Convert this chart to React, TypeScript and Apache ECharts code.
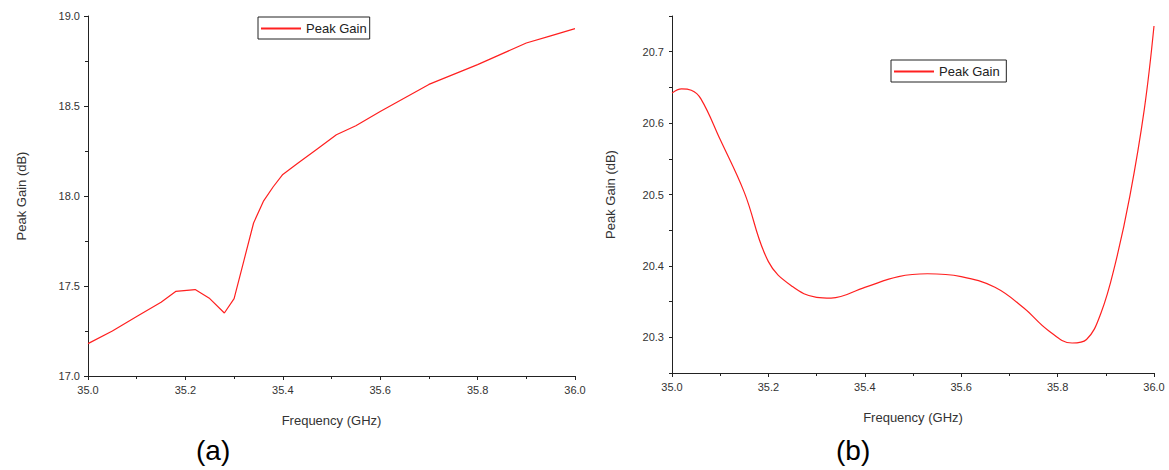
import { useEffect, useRef } from "react";
import * as echarts from "echarts";

// (a) peak gain vs frequency
const freqA = [35.0, 35.05, 35.1, 35.15, 35.18, 35.22, 35.25, 35.28, 35.3, 35.32, 35.34, 35.36, 35.38, 35.4, 35.43, 35.47, 35.51, 35.55, 35.6, 35.7, 35.8, 35.9, 35.95, 36.0];
const gainA = [17.18, 17.25, 17.33, 17.41, 17.47, 17.48, 17.43, 17.35, 17.43, 17.64, 17.85, 17.97, 18.05, 18.12, 18.18, 18.26, 18.34, 18.39, 18.47, 18.62, 18.73, 18.85, 18.89, 18.93];

// (b) peak gain vs frequency
const freqB = [35.0, 35.02, 35.04, 35.06, 35.1, 35.15, 35.2, 35.25, 35.3, 35.33, 35.4, 35.47, 35.53, 35.6, 35.67, 35.73, 35.78, 35.83, 35.86, 35.89, 35.92, 35.95, 35.98, 36.0];
const gainB = [20.642, 20.648, 20.646, 20.634, 20.577, 20.503, 20.406, 20.371, 20.356, 20.355, 20.37, 20.385, 20.389, 20.385, 20.37, 20.341, 20.31, 20.292, 20.297, 20.334, 20.404, 20.498, 20.62, 20.736];

const FONT = "Liberation Sans";
const axisLine = { show: true, lineStyle: { color: "#222", width: 1 } };

function xAxis(gridIndex: number) {
  return {
    type: "value", gridIndex, min: 35, max: 36, interval: 0.2,
    name: "Frequency (GHz)", nameLocation: "middle", nameGap: 38,
    nameTextStyle: { fontFamily: FONT, fontSize: 13, color: "#333" },
    axisLine, axisTick: { show: true, length: 4, lineStyle: { color: "#222" } },
    minorTick: { show: true, splitNumber: 2, length: 3, lineStyle: { color: "#222" } },
    axisLabel: { fontFamily: FONT, fontSize: 11, color: "#333", formatter: (v: number) => v.toFixed(1) },
    splitLine: { show: false },
  };
}

export default function App() {
  const ref = useRef<HTMLDivElement>(null);

  useEffect(() => {
    if (!ref.current) return;
    const chart = echarts.init(ref.current, null, { renderer: "svg" });
    const legendBase = {
      itemWidth: 40, itemHeight: 2, icon: "rect", orient: "vertical",
      borderColor: "#222", borderWidth: 1, padding: [5, 3, 4, 3], itemGap: 0,
      textStyle: { fontFamily: FONT, fontSize: 13, color: "#222" },
    };
    chart.setOption({
      animation: false,
      backgroundColor: "#fff",
      grid: [
        { left: 88, top: 16, width: 487, height: 360 },
        { left: 672, top: 16, width: 482, height: 357 },
      ],
      legend: [
        { ...legendBase, left: 258, top: 17, data: ["Peak Gain"] },
        { ...legendBase, left: 891, top: 60, data: ["Peak Gain "] },
      ],
      xAxis: [xAxis(0), xAxis(1)],
      yAxis: [
        {
          type: "value", gridIndex: 0, min: 17, max: 19, interval: 0.5,
          name: "Peak Gain (dB)", nameLocation: "middle", nameGap: 60,
          nameTextStyle: { fontFamily: FONT, fontSize: 13, color: "#333" },
          axisLine, axisTick: { show: true, length: 4, lineStyle: { color: "#222" } },
          minorTick: { show: true, splitNumber: 2, length: 3, lineStyle: { color: "#222" } },
          axisLabel: { fontFamily: FONT, fontSize: 11, color: "#333", formatter: (v: number) => v.toFixed(1) },
          splitLine: { show: false },
        },
        {
          type: "value", gridIndex: 1, min: 20.25, max: 20.75, interval: 0.05,
          name: "Peak Gain (dB)", nameLocation: "middle", nameGap: 55,
          nameTextStyle: { fontFamily: FONT, fontSize: 13, color: "#333" },
          axisLine, axisTick: { show: true, length: 3, lineStyle: { color: "#222" } },
          axisLabel: {
            fontFamily: FONT, fontSize: 11, color: "#333",
            formatter: (v: number) => (Math.abs(v * 10 - Math.round(v * 10)) < 0.01 ? v.toFixed(1) : ""),
          },
          splitLine: { show: false },
        },
      ],
      series: [
        {
          name: "Peak Gain", type: "line", xAxisIndex: 0, yAxisIndex: 0, showSymbol: false, smooth: false,
          data: freqA.map((f, i) => [f, gainA[i]]), lineStyle: { color: "#ff2020", width: 1.2 }, itemStyle: { color: "#ff2020" },
        },
        {
          name: "Peak Gain ", type: "line", xAxisIndex: 1, yAxisIndex: 1, showSymbol: false, smooth: 0.4,
          data: freqB.map((f, i) => [f, gainB[i]]), lineStyle: { color: "#ff2020", width: 1.2 }, itemStyle: { color: "#ff2020" },
        },
      ],
      graphic: [
        { type: "text", left: 196, top: 436, style: { text: "(a)", font: `28px ${FONT}`, fill: "#000" } },
        { type: "text", left: 836, top: 436, style: { text: "(b)", font: `28px ${FONT}`, fill: "#000" } },
      ],
    });
    return () => chart.dispose();
  }, []);

  return <div ref={ref} style={{ position: "fixed", left: 0, top: 0, width: 1169, height: 470 }} />;
}
